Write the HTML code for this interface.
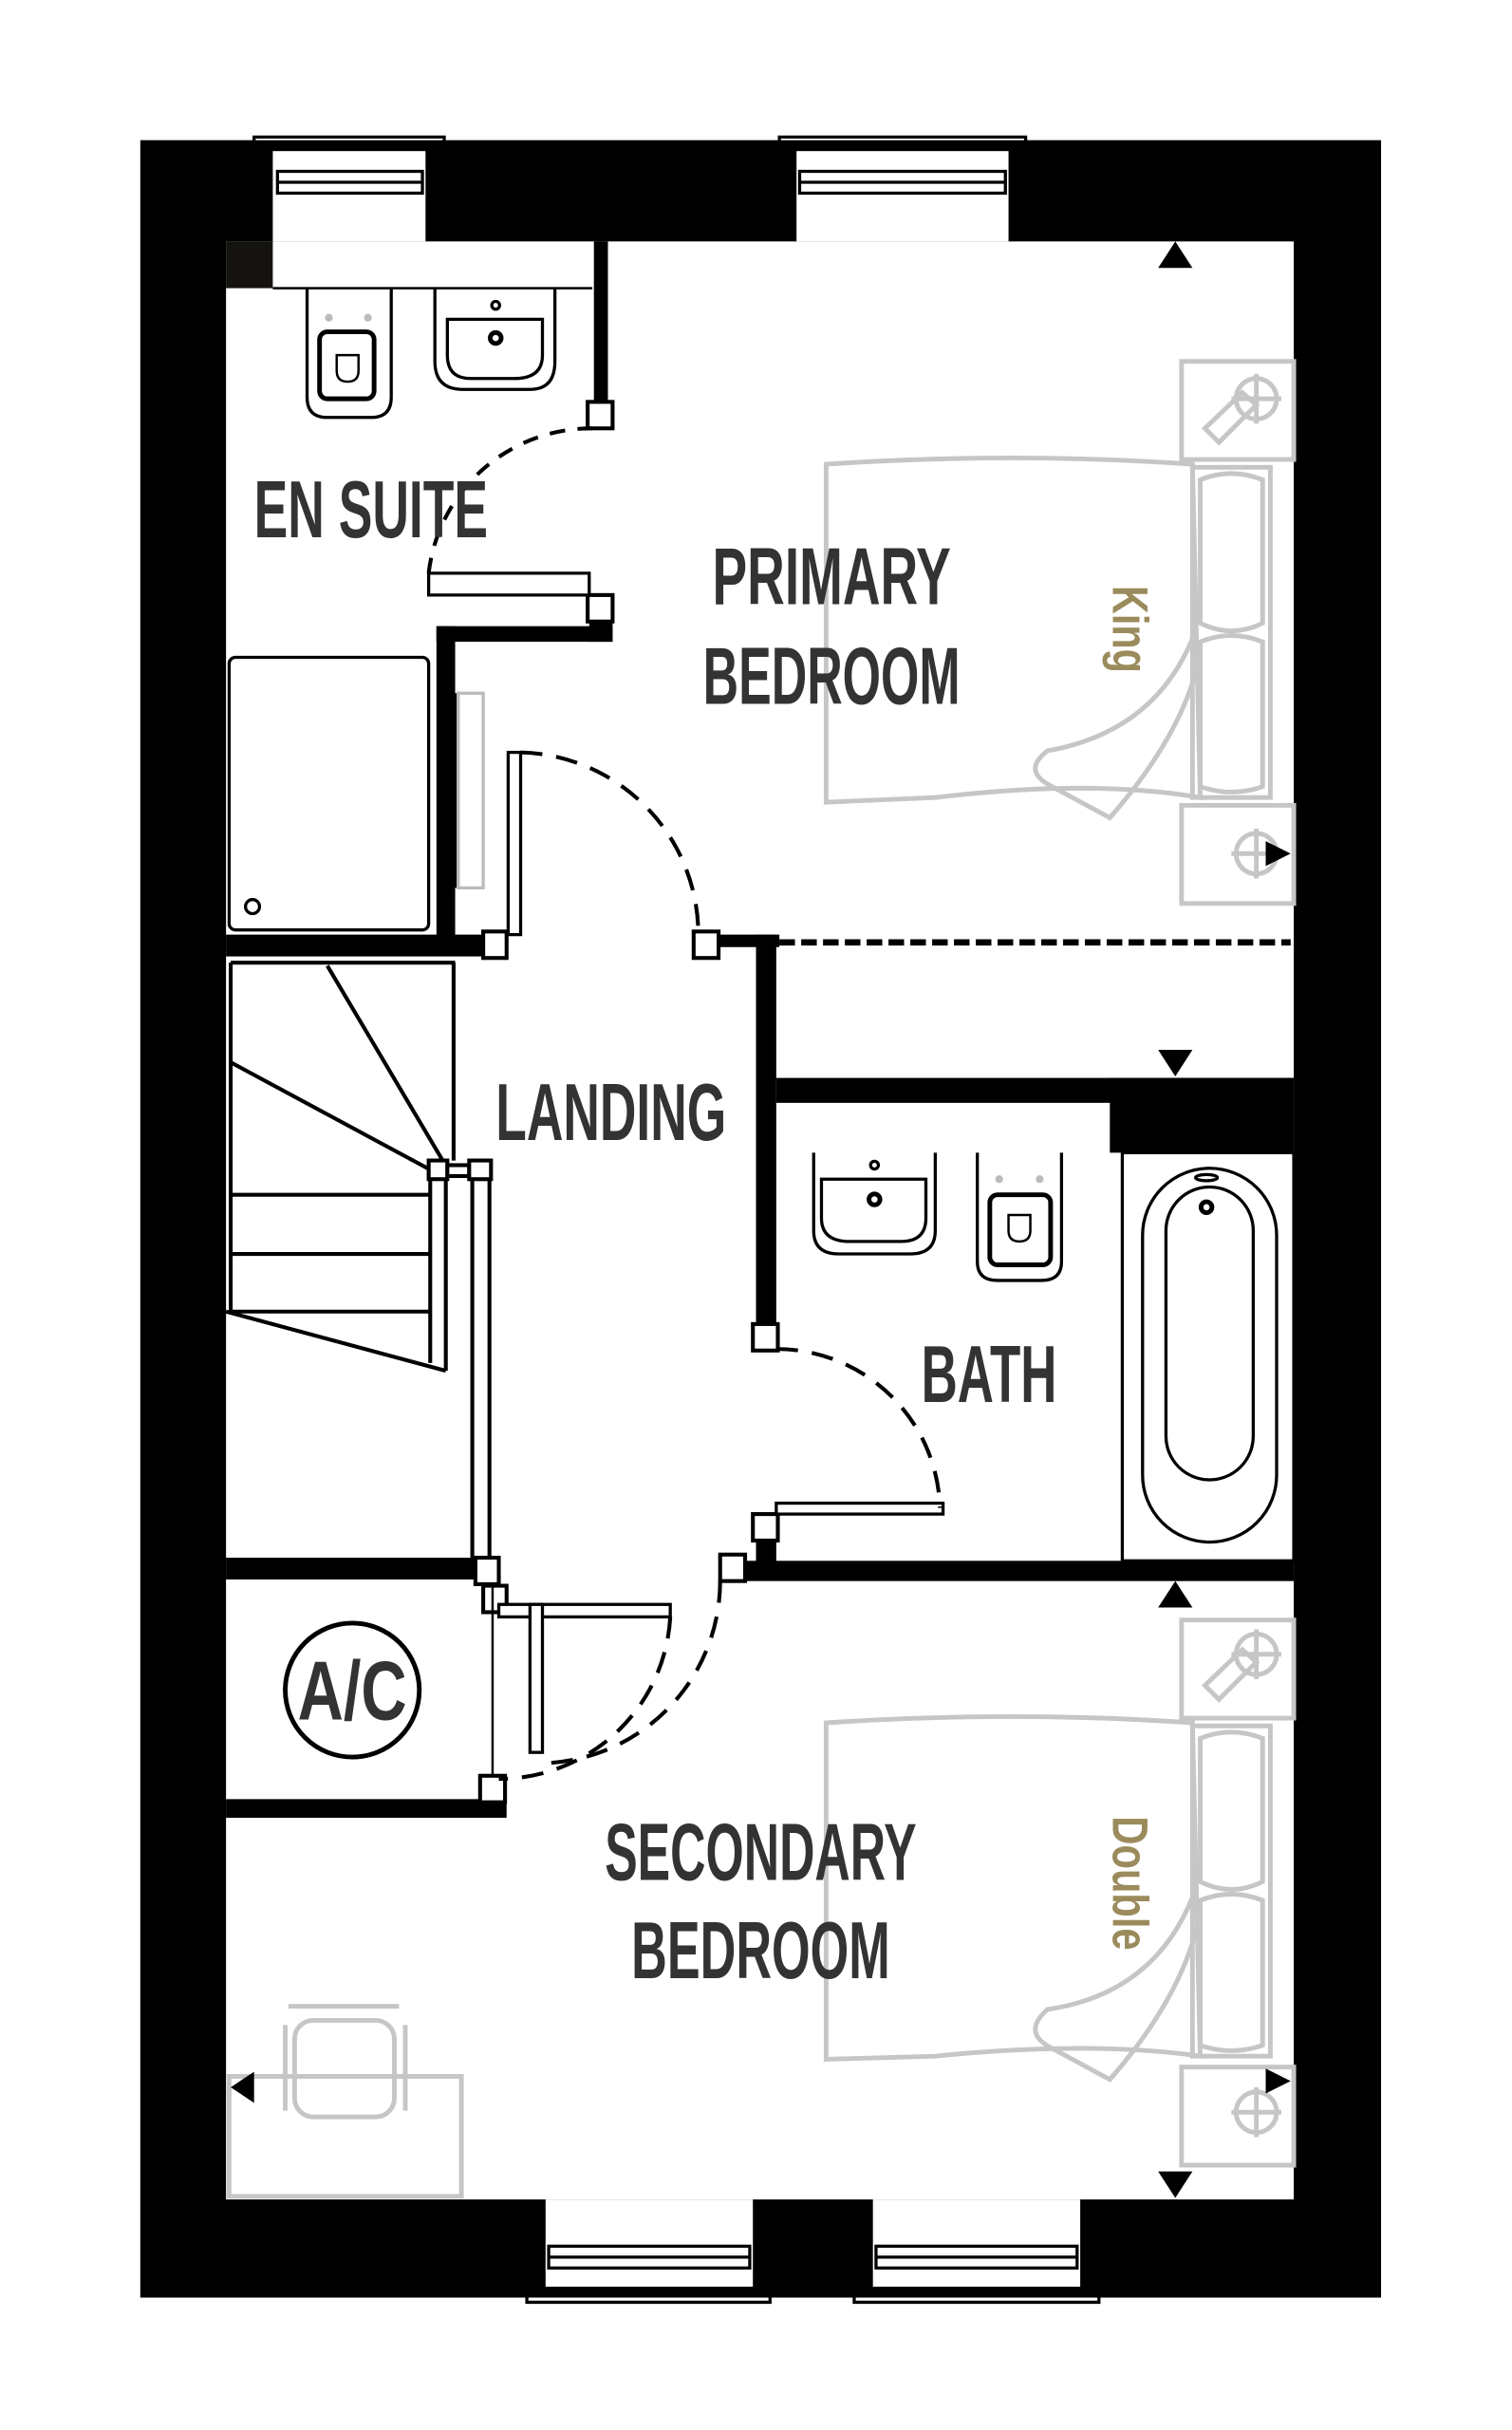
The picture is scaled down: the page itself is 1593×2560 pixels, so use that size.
<!DOCTYPE html>
<html><head><meta charset="utf-8"><style>
html,body{margin:0;padding:0;background:#fff;}
svg{display:block}
.lbl{font-family:"Liberation Sans Narrow","Liberation Sans",sans-serif;font-weight:bold;fill:#333;}
.gold{font-family:"Liberation Sans Narrow","Liberation Sans",sans-serif;font-weight:bold;fill:#9b8b5c;}
</style></head><body>
<svg width="1593" height="2560" viewBox="0 0 970 1560" preserveAspectRatio="none" xmlns="http://www.w3.org/2000/svg">
<rect width="970" height="1560" fill="#fff"/>
<rect x="90" y="90" width="796" height="1385" fill="#000"/>
<rect x="145" y="155" width="685" height="1257" fill="#fff"/>
<g fill="#fff" stroke="#000" stroke-width="2">
<rect x="175" y="97" width="98" height="58" stroke="none"/>
<path d="M163 97 V88 H285 V97 H273 M163 97 H175" fill="none"/>
<rect x="178" y="110" width="93" height="14" fill="#fff"/>
<line x1="178" y1="117" x2="271" y2="117"/>
<rect x="511" y="97" width="136" height="58" stroke="none"/>
<path d="M500 97 V88 H658 V97" fill="none"/>
<rect x="513" y="110" width="132" height="14"/>
<line x1="513" y1="117" x2="645" y2="117"/>
<rect x="350" y="1412" width="133" height="56" stroke="none"/>
<path d="M338 1470 V1478 H494 V1470" fill="none"/>
<rect x="352" y="1442" width="129" height="14"/>
<line x1="352" y1="1449" x2="481" y2="1449"/>
<rect x="560" y="1412" width="133" height="56" stroke="none"/>
<path d="M548 1470 V1478 H705 V1470" fill="none"/>
<rect x="562" y="1442" width="129" height="14"/>
<line x1="562" y1="1449" x2="691" y2="1449"/>
</g>
<rect x="145" y="155" width="30" height="30" fill="#151310"/>
<line x1="175" y1="185" x2="380" y2="185" stroke="#000" stroke-width="1.5"/>
<g fill="#000">
<rect x="381" y="155" width="9" height="105"/>
<rect x="378" y="398" width="15" height="14"/>
<rect x="280" y="402" width="113" height="10"/>
<rect x="280" y="402" width="12" height="210"/>
<rect x="145" y="600" width="165" height="14"/>
<rect x="462" y="600" width="38" height="8"/>
<rect x="485" y="600" width="13" height="250"/>
<rect x="498" y="692" width="332" height="16"/>
<rect x="712" y="692" width="118" height="48"/>
<rect x="145" y="1000" width="160" height="14"/>
<rect x="462" y="1002" width="368" height="13"/>
<rect x="485" y="988" width="13" height="22"/>
<rect x="145" y="1155" width="180" height="12"/>
</g>
<g fill="#fff" stroke="#000" stroke-width="2.5">
<rect x="377" y="258" width="16" height="17"/>
<rect x="377" y="382" width="16" height="17"/>
<rect x="310" y="598" width="15" height="17"/>
<rect x="445" y="598" width="16" height="17"/>
<rect x="483" y="850" width="16" height="17"/>
<rect x="483" y="972" width="16" height="17"/>
<rect x="305" y="1000" width="15" height="17"/>
<rect x="310" y="1018" width="15" height="17"/>
<rect x="462" y="998" width="16" height="17"/>
<rect x="308" y="1140" width="16" height="17"/>
</g>
<line x1="500" y1="605" x2="828" y2="605" stroke="#000" stroke-width="4" stroke-dasharray="10 4"/>
<g fill="none" stroke="#000" stroke-width="2">
<path d="M275 368 H378 V382 H275 Z" fill="#fff"/>
<path d="M275 368 A105 105 0 0 1 380 275" stroke-dasharray="10 8" stroke-width="2.5"/>
<rect x="326" y="483" width="8" height="117" fill="#fff"/>
<path d="M334 483 A117 117 0 0 1 448 600" stroke-dasharray="14 9" stroke-width="2.5"/>
<rect x="498" y="965" width="107" height="7" fill="#fff"/>
<path d="M498 866 A105 105 0 0 1 603 968" stroke-dasharray="14 9" stroke-width="2.5"/>
<rect x="320" y="1030" width="110" height="8" fill="#fff"/>
<rect x="340" y="1030" width="8" height="95" fill="#fff"/>
<path d="M430 1038 A110 110 0 0 1 320 1142" stroke-dasharray="14 9" stroke-width="2.5"/>
<path d="M462 1015 A117 117 0 0 1 345 1132" stroke-dasharray="14 9" stroke-width="2.5"/>
<line x1="316" y1="1018" x2="316" y2="1140" stroke-width="1.5"/>
<line x1="292" y1="445" x2="292" y2="570"/>
<rect x="294" y="445" width="16" height="125" stroke="#bbb"/>
</g>
<g fill="none" stroke="#000" stroke-width="2.5">
<line x1="148" y1="618" x2="292" y2="618"/>
<line x1="148" y1="618" x2="148" y2="842"/>
<line x1="291" y1="618" x2="291" y2="745"/>
<line x1="210" y1="620" x2="284" y2="745"/>
<line x1="148" y1="682" x2="278" y2="752"/>
<line x1="148" y1="767" x2="276" y2="767"/>
<line x1="148" y1="805" x2="276" y2="805"/>
<line x1="148" y1="842" x2="276" y2="842"/>
<line x1="145" y1="842" x2="286" y2="880"/>
<line x1="276" y1="752" x2="276" y2="875"/>
<line x1="286" y1="752" x2="286" y2="880"/>
<line x1="303" y1="752" x2="303" y2="1000"/>
<line x1="314" y1="752" x2="314" y2="1000"/>
<rect x="275" y="745" width="12" height="12" fill="#fff"/>
<rect x="287" y="748" width="14" height="7" fill="#fff"/>
<rect x="301" y="745" width="14" height="12" fill="#fff"/>
</g>
<g fill="none" stroke="#000" stroke-width="2">
<rect x="147" y="422" width="128" height="175" rx="4"/>
<circle cx="162" cy="582" r="4.5"/>
<path d="M197 185 V255 Q197 268 210 268 H238 Q251 268 251 255 V185"/>
<rect x="205" y="213" width="35" height="43" rx="5" stroke-width="3"/>
<path d="M216 228 H230 V238 Q230 245 223 245 Q216 245 216 238 Z" stroke-width="1.5"/>
<path d="M279 185 V232 Q279 250 297 250 H340 Q356 250 356 232 V185"/>
<path d="M287 205 H348 V228 Q348 243 330 243 H302 Q287 243 287 228 Z"/>
<circle cx="318" cy="196" r="2.5"/>
<circle cx="318" cy="217" r="3.5" stroke-width="3"/>
</g>
<g fill="#bbb"><circle cx="211" cy="204" r="2.5"/><circle cx="236" cy="204" r="2.5"/><circle cx="641" cy="757" r="2.5"/><circle cx="667" cy="757" r="2.5"/></g>
<g fill="none" stroke="#000" stroke-width="2">
<path d="M522 740 V790 Q522 805 538 805 H584 Q600 805 600 790 V740"/>
<path d="M527 757 H594 V782 Q594 797 578 797 H545 Q527 797 527 782 Z"/>
<circle cx="561" cy="748" r="2.5"/><circle cx="561" cy="770" r="3.5" stroke-width="3"/>
<path d="M627 740 V810 Q627 822 640 822 H668 Q681 822 681 810 V740"/>
<rect x="635" y="767" width="39" height="45" rx="5" stroke-width="3"/>
<path d="M647 780 H661 V790 Q661 797 654 797 Q647 797 647 790 Z" stroke-width="1.5"/>
<rect x="720" y="740" width="110" height="262"/>
<rect x="733" y="750" width="86" height="240" rx="43"/>
<rect x="748" y="762" width="56" height="188" rx="28"/>
<ellipse cx="774" cy="756" rx="7" ry="2"/>
<circle cx="774" cy="775" r="3.5" stroke-width="3"/>
</g>
<circle cx="226" cy="1085" r="43" fill="none" stroke="#000" stroke-width="3"/>
<text x="226" y="1104" text-anchor="middle" class="lbl" font-size="54" textLength="70" lengthAdjust="spacingAndGlyphs">A/C</text>
<g fill="none" stroke="#c6c6c6" stroke-width="3">
<rect x="758" y="232" width="72" height="63"/>
<circle cx="806" cy="256" r="13"/><line x1="790" y1="256" x2="822" y2="256"/><line x1="806" y1="240" x2="806" y2="272"/>
<path d="M773 275 L797 252 L806 260 L782 284 Z"/>
<rect x="758" y="517" width="72" height="63"/>
<circle cx="806" cy="548" r="13"/><line x1="790" y1="548" x2="822" y2="548"/><line x1="806" y1="532" x2="806" y2="564"/>
<rect x="765" y="300" width="50" height="212"/>
<path d="M770 308 Q790 300 810 308 V400 Q790 410 770 400 Z M770 412 Q790 404 810 412 V505 Q790 512 770 505 Z"/>
<path d="M530 298 Q650 290 765 298 L770 512 Q700 500 600 512 L530 515 Z"/>
<path d="M765 410 Q740 470 672 482 Q655 495 675 505 L712 525 Q760 470 770 420"/>
<rect x="758" y="1040" width="72" height="63"/>
<circle cx="806" cy="1062" r="13"/><line x1="790" y1="1062" x2="822" y2="1062"/><line x1="806" y1="1046" x2="806" y2="1078"/>
<path d="M773 1082 L797 1059 L806 1067 L782 1091 Z"/>
<rect x="758" y="1327" width="72" height="63"/>
<circle cx="806" cy="1356" r="13"/><line x1="790" y1="1356" x2="822" y2="1356"/><line x1="806" y1="1340" x2="806" y2="1372"/>
<rect x="765" y="1108" width="50" height="212"/>
<path d="M770 1116 Q790 1108 810 1116 V1208 Q790 1218 770 1208 Z M770 1220 Q790 1212 810 1220 V1313 Q790 1320 770 1313 Z"/>
<path d="M530 1106 Q650 1098 765 1106 L770 1320 Q700 1310 600 1320 L530 1322 Z"/>
<path d="M765 1218 Q740 1280 672 1290 Q655 1305 675 1315 L712 1335 Q760 1280 770 1228"/>
<rect x="147" y="1333" width="149" height="77"/>
<rect x="189" y="1297" width="64" height="62" rx="12"/>
<path d="M185 1288 H256 M183 1300 V1355 M260 1300 V1355"/>
</g>
<g fill="#000">
<path d="M743 172 L754 155 L765 172 Z"/>
<path d="M743 674 L765 674 L754 691 Z"/>
<path d="M743 1032 L754 1015 L765 1032 Z"/>
<path d="M743 1394 L765 1394 L754 1411 Z"/>
<path d="M163 1330 L163 1350 L148 1340 Z"/>
<path d="M812 540 L828 548 L812 556 Z"/>
<path d="M812 1328 L828 1336 L812 1344 Z"/>
</g>
<g class="lbl" font-size="52">
<text x="163" y="345" textLength="150" lengthAdjust="spacingAndGlyphs">EN SUITE</text>
<text x="457" y="388" textLength="153" lengthAdjust="spacingAndGlyphs">PRIMARY</text>
<text x="451" y="452" textLength="165" lengthAdjust="spacingAndGlyphs">BEDROOM</text>
<text x="318" y="732" textLength="148" lengthAdjust="spacingAndGlyphs">LANDING</text>
<text x="591" y="900" textLength="87" lengthAdjust="spacingAndGlyphs">BATH</text>
<text x="388" y="1207" textLength="200" lengthAdjust="spacingAndGlyphs">SECONDARY</text>
<text x="405" y="1270" textLength="166" lengthAdjust="spacingAndGlyphs">BEDROOM</text>
</g>
<text class="gold" font-size="32" transform="translate(714,376) rotate(90)" textLength="56" lengthAdjust="spacingAndGlyphs">King</text>
<text class="gold" font-size="32" transform="translate(714,1166) rotate(90)" textLength="86" lengthAdjust="spacingAndGlyphs">Double</text>
</svg>
</body></html>
